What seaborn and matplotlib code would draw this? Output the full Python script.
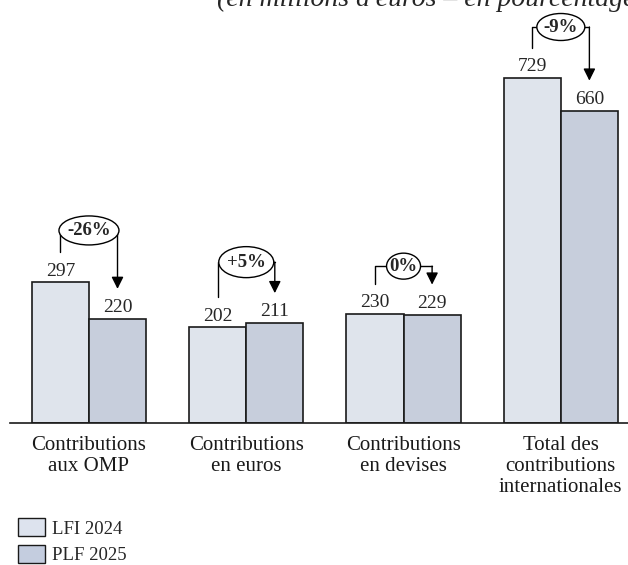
import pandas as pd
import matplotlib.pyplot as plt
import seaborn as sns
from matplotlib.patches import Ellipse, Patch

# --- données ---
categories = ["Contributions\naux OMP", "Contributions\nen euros",
              "Contributions\nen devises", "Total des\ncontributions\ninternationales"]
lfi_2024 = [297, 202, 230, 729]
plf_2025 = [220, 211, 229, 660]
variations = ["-26%", "+5%", "0%", "-9%"]
series = ["LFI 2024", "PLF 2025"]
colors = {"LFI 2024": "#dde3ee", "PLF 2025": "#c4cddf"}

# réglages des bulles (en pixels)
bubble_gap = [52, 61, 48, 51]
bubble_w = [60, 55, 34, 48]
bubble_h = [29, 31, 26, 27]

df = pd.DataFrame({
    "cat": categories * 2,
    "val": lfi_2024 + plf_2025,
    "serie": [series[0]] * 4 + [series[1]] * 4,
})

sns.set_theme(style="white")
plt.rcParams["font.family"] = ["Liberation Serif", "DejaVu Serif"]

W, H = 628, 565
fig = plt.figure(figsize=(W / 100, H / 100), dpi=100)
x0, x1 = -0.502, 3.427
y_top = 800
ax_w = 618
px_per_y = 345 / 729
ax_h = y_top * px_per_y
ax = fig.add_axes([10 / W, 1 - 423 / H, ax_w / W, ax_h / H])

sns.barplot(data=df, x="cat", y="val", hue="serie", palette=colors,
            width=0.726, gap=0, edgecolor="#1a1a1a", linewidth=1.2,
            legend=False, ax=ax)
ax.set_xlim(x0, x1)
ax.set_ylim(0, y_top)

for cont in ax.containers:
    ax.bar_label(cont, fmt="%d", padding=2, fontsize=14)

ax.set_xlabel("")
ax.set_ylabel("")
ax.set_yticks([])
ax.tick_params(axis="x", length=0, pad=9, labelsize=15, colors="#1a1a1a")
for t in ax.get_xticklabels():
    t.set_linespacing(1.17)
for s in ["left", "top", "right"]:
    ax.spines[s].set_visible(False)
ax.spines["bottom"].set_color("#1a1a1a")
ax.spines["bottom"].set_linewidth(1.2)

# conversions pixels -> données
px = (x1 - x0) / ax_w
py = 1 / px_per_y
bw = 0.363

for i, (a, b) in enumerate(zip(lfi_2024, plf_2025)):
    lx, rx = i - bw / 2, i + bw / 2
    cy = max(a, b) + bubble_gap[i] * py
    ax.plot([lx, lx, i], [a + 30 * py, cy, cy], color="black", lw=1, clip_on=False)
    ax.plot([i, rx], [cy, cy], color="black", lw=1, clip_on=False)
    ax.annotate("", xy=(rx, b + 30 * py), xytext=(rx, cy),
                arrowprops=dict(arrowstyle="-|>,head_length=0.6,head_width=0.3",
                                color="black", lw=1, shrinkA=0, shrinkB=0),
                annotation_clip=False)
    ax.add_patch(Ellipse((i, cy), bubble_w[i] * px, bubble_h[i] * py,
                         facecolor="white", edgecolor="black", lw=1,
                         zorder=5, clip_on=False))
    ax.text(i, cy, variations[i], ha="center", va="center", fontsize=13.5,
            fontweight="bold", zorder=6)

fig.text(217 / W, 1 - 6 / H, "(en millions d'euros – en pourcentage)",
         fontsize=20, style="italic", ha="left", va="baseline")

handles = [Patch(facecolor=colors[s], edgecolor="#1a1a1a", lw=1) for s in series]
fig.legend(handles, series, loc="upper left", bbox_to_anchor=(5 / W, 1 - 505 / H),
           frameon=False, fontsize=13.5, handlelength=1.44, handleheight=1.1,
           handletextpad=0.35, labelspacing=0.4, borderpad=0.2)

fig.savefig("out.png", dpi=100)
